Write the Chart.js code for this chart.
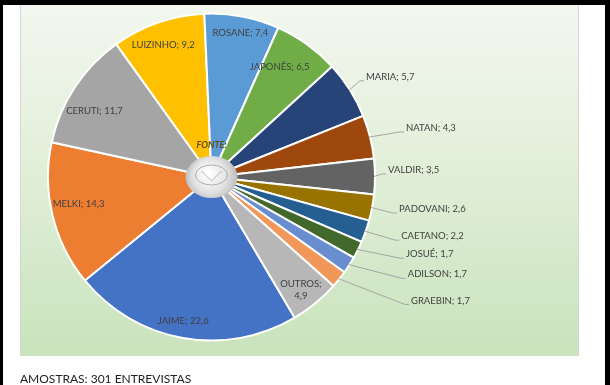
<!DOCTYPE html>
<html><head><meta charset="utf-8">
<script src="https://cdn.jsdelivr.net/npm/chart.js@4.4.1/dist/chart.umd.min.js"></script>
<style>html,body{margin:0;padding:0;background:#fff;}#wrap{position:relative;width:610px;height:385px;}</style>
</head><body><div id="wrap"><canvas id="c" width="610" height="385"></canvas></div>
<script>
const categories = ['JAIME','MELKI','CERUTI','LUIZINHO','ROSANE','JAPONÊS','MARIA','NATAN','VALDIR','PADOVANI','CAETANO','JOSUÉ','ADILSON','GRAEBIN','OUTROS'];
const values = [22.6,14.3,11.7,9.2,7.4,6.5,5.7,4.3,3.5,2.6,2.2,1.7,1.7,1.7,4.9];
const colors = ['#4472C4','#ED7D31','#A5A5A5','#FFC000','#5B9BD5','#70AD47','#264478','#9E480E','#636363','#997300','#255E91','#43682B','#698ED0','#F1975A','#B7B7B7'];
const footnote = 'AMOSTRAS: 301 ENTREVISTAS';
const sourceText = 'FONTE:';

// label layout: inside {r, da} (radius fraction, angle offset deg); outside {lx, ly} in radius units
const labelLayout = [
  {r:0.90, da:1},      // JAIME
  {r:0.83, da:2},      // MELKI
  {r:0.82, da:-4},     // CERUTI
  {r:0.86, da:-1},     // LUIZINHO
  {r:0.90, da:0.5},    // ROSANE
  {r:0.79, da:-4},     // JAPONÊS
  {lx:0.945, ly:-0.613},
  {lx:1.19, ly:-0.30},
  {lx:1.08, ly:-0.043},
  {lx:1.147, ly:0.196},
  {lx:1.16, ly:0.362},
  {lx:1.19, ly:0.472},
  {lx:1.20, ly:0.595},
  {lx:1.22, ly:0.755},
  {r:0.88, da:1, split:true} // OUTROS
];

const fmt = v => String(v).replace('.', ',');
const FONT = 'Lato, "Open Sans", sans-serif';

const bgPlugin = {
  id:'bg',
  beforeDraw(chart){
    const ctx = chart.ctx;
    ctx.save();
    ctx.fillStyle = '#fff';
    ctx.fillRect(0,0,610,385);
    ctx.fillStyle = '#000';
    ctx.fillRect(0,0,610,5);
    ctx.fillRect(0,0,3,385);
    ctx.fillRect(605,0,5,385);
    const g = ctx.createLinearGradient(0,5,0,356);
    g.addColorStop(0,'#f3f7ef');
    g.addColorStop(0.5,'#e0eed7');
    g.addColorStop(1,'#c9e3bc');
    ctx.fillStyle = g;
    ctx.fillRect(21,5,557,351);
    ctx.strokeStyle = '#d6d6d6';
    ctx.lineWidth = 1;
    ctx.beginPath();
    ctx.moveTo(20.5,5); ctx.lineTo(20.5,356);
    ctx.moveTo(578.5,5); ctx.lineTo(578.5,356);
    ctx.stroke();
    ctx.fillStyle = '#222';
    ctx.font = '12px ' + FONT;
    ctx.textBaseline = 'alphabetic';
    ctx.textAlign = 'left';
    ctx.fillText(footnote, 20, 383);
    ctx.restore();
  }
};

const labelPlugin = {
  id:'labels',
  afterDatasetsDraw(chart){
    const ctx = chart.ctx;
    const meta = chart.getDatasetMeta(0);
    const arc0 = meta.data[0];
    const cx = arc0.x, cy = arc0.y, R = arc0.outerRadius;
    ctx.save();
    // center emblem
    const eg = ctx.createRadialGradient(cx-4, cy-4, 2, cx, cy, 27);
    eg.addColorStop(0,'#ffffff');
    eg.addColorStop(0.6,'#e2e2e2');
    eg.addColorStop(1,'#b8b8b8');
    ctx.fillStyle = eg;
    ctx.beginPath();
    ctx.ellipse(cx, cy, 26, 21, 0, 0, Math.PI*2);
    ctx.fill();
    ctx.strokeStyle = 'rgba(150,150,150,0.7)';
    ctx.lineWidth = 1;
    ctx.beginPath();
    ctx.ellipse(cx, cy-2, 16, 10, 0, 0, Math.PI*2);
    ctx.stroke();
    ctx.beginPath();
    ctx.moveTo(cx-10, cy-6); ctx.lineTo(cx, cy+4); ctx.lineTo(cx+10, cy-6);
    ctx.stroke();
    // source text
    ctx.fillStyle = '#5e4d12';
    ctx.font = 'italic bold 9px ' + FONT;
    ctx.textAlign = 'center';
    ctx.textBaseline = 'middle';
    ctx.fillText(sourceText, cx, cy - 32);

    ctx.font = '9.5px ' + FONT;
    ctx.fillStyle = '#404040';
    meta.data.forEach((arc, i) => {
      const L = labelLayout[i];
      const mid = (arc.startAngle + arc.endAngle) / 2;
      const text = categories[i] + '; ' + fmt(values[i]);
      if (L.lx !== undefined) {
        const tx = cx + L.lx * R, ty = cy + L.ly * R;
        const ex = cx + Math.cos(mid) * (R - 1), ey = cy + Math.sin(mid) * (R - 1);
        ctx.strokeStyle = '#a6a6a6';
        ctx.lineWidth = 1;
        ctx.beginPath();
        ctx.moveTo(ex, ey);
        ctx.lineTo(tx - 6, ty + 4);
        ctx.lineTo(tx - 2, ty + 4);
        ctx.stroke();
        ctx.textAlign = 'left';
        ctx.fillText(text, tx, ty);
      } else {
        const a = mid + L.da * Math.PI / 180;
        const px = cx + Math.cos(a) * R * L.r, py = cy + Math.sin(a) * R * L.r;
        ctx.textAlign = 'center';
        if (L.split) {
          ctx.fillText(categories[i] + ';', px, py - 6);
          ctx.fillText(fmt(values[i]), px, py + 6);
        } else {
          ctx.fillText(text, px, py);
        }
      }
    });
    ctx.restore();
  }
};

new Chart(document.getElementById('c'), {
  type:'pie',
  data:{ labels: categories, datasets:[{ data: values, backgroundColor: colors, borderColor:'#ffffff', borderWidth:2 }] },
  options:{
    responsive:false,
    animation:false,
    rotation:149.4,
    layout:{ padding:{ left:47, top:12, right:234, bottom:43 } },
    plugins:{ legend:{display:false}, tooltip:{enabled:false} }
  },
  plugins:[bgPlugin, labelPlugin]
});
</script></body></html>
